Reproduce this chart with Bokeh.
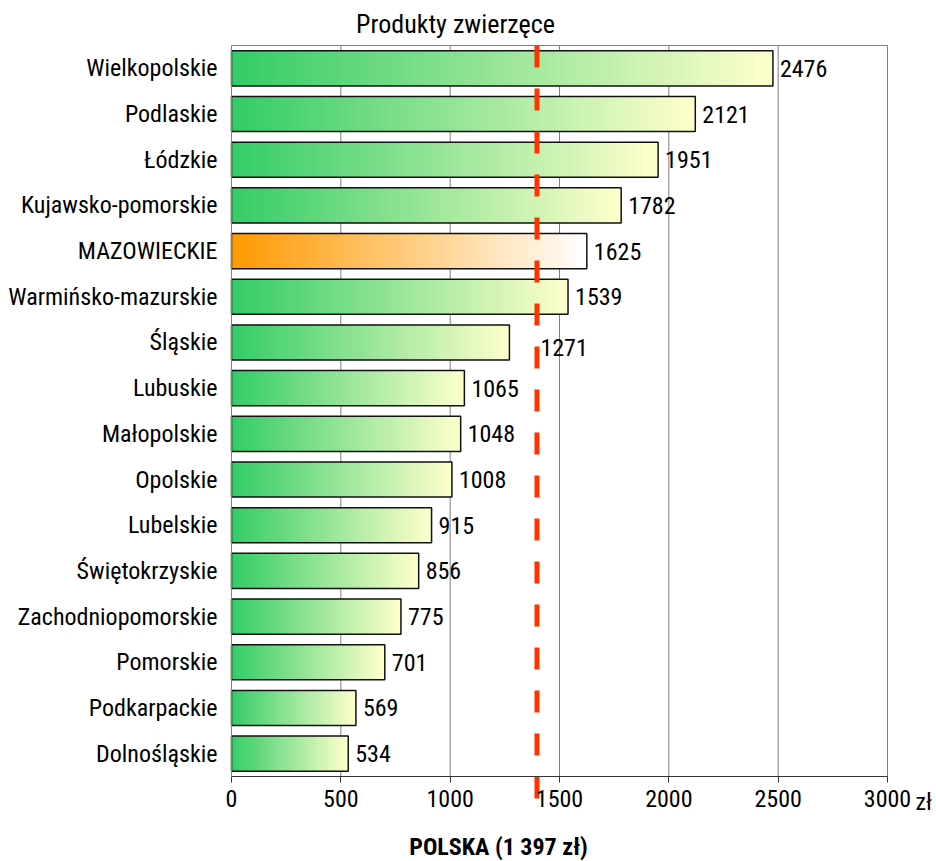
from bokeh.plotting import figure
from bokeh.models import Range1d, FixedTicker
from bokeh.embed import file_html
from bokeh.resources import INLINE
from bokeh.core.properties import value

# ---- data ----
regions = ["Wielkopolskie", "Podlaskie", "Łódzkie", "Kujawsko-pomorskie", "MAZOWIECKIE",
           "Warmińsko-mazurskie", "Śląskie", "Lubuskie", "Małopolskie", "Opolskie",
           "Lubelskie", "Świętokrzyskie", "Zachodniopomorskie", "Pomorskie",
           "Podkarpackie", "Dolnośląskie"]
values = [2476, 2121, 1951, 1782, 1625, 1539, 1271, 1065, 1048, 1008, 915, 856, 775, 701, 569, 534]
highlight = "MAZOWIECKIE"
poland_avg = 1397
x_ticks = [0, 500, 1000, 1500, 2000, 2500, 3000]
title_text = "Produkty zwierzęce"
national_text = "POLSKA (1 397 zł)"
unit_text = "zł"

# ---- style ----
FONT = "Roboto Condensed"
FS = "24px"
GREEN = ((51, 204, 102), (255, 255, 204))
ORANGE = ((255, 153, 0), (255, 255, 255))
N_SEG = 60
BAR_H = 0.77
label_dx = [7] * len(values)
label_dy = [0] * len(values)
label_dx[6] = 31
label_dy[6] = 5

W, H = 936, 861
n = len(regions)
ys = [n - i for i in range(n)]
x_max = x_ticks[-1]
# pixel geometry of the plotting area inside the canvas
left_px, right_px, top_px, axis_px = 231, 887, 45, 776
px_x = (right_px - left_px) / x_max
px_y = (axis_px - top_px) / n
y_lo, y_hi = 0.5, n + 0.5

def sx(px):
    return (px - left_px) / px_x

def sy(py):
    return y_lo + (axis_px - py) / px_y

p = figure(width=W, height=H,
           x_range=Range1d(sx(0), sx(W)), y_range=Range1d(sy(H), sy(0)),
           output_backend="svg", toolbar_location=None, min_border=0,
           min_border_left=0, min_border_right=0, min_border_top=0, min_border_bottom=0)
p.outline_line_color = None
p.xgrid.visible = False
p.ygrid.visible = False
p.background_fill_color = "white"
p.border_fill_color = "white"

# grid lines (vertical) and top border
p.segment(x0=x_ticks[1:], x1=x_ticks[1:], y0=y_lo, y1=y_hi, line_color="#808080", line_width=1)
p.segment(x0=[0], x1=[x_max], y0=[y_hi], y1=[y_hi], line_color="#808080", line_width=1)


def hexc(c):
    return "#%02x%02x%02x" % tuple(int(round(v)) for v in c)


seg_y, seg_l, seg_r, seg_c = [], [], [], []
for name, v, y in zip(regions, values, ys):
    c0, c1 = ORANGE if name == highlight else GREEN
    for k in range(N_SEG):
        t = (k + 0.5) / N_SEG
        col = tuple(c0[j] + (c1[j] - c0[j]) * t for j in range(3))
        seg_y.append(y)
        seg_l.append(v * k / N_SEG)
        seg_r.append(min(v, v * (k + 1.3) / N_SEG))
        seg_c.append(hexc(col))

p.hbar(y=seg_y, left=seg_l, right=seg_r, height=BAR_H, fill_color=seg_c, line_color=None)
p.hbar(y=ys, left=0, right=values, height=BAR_H, fill_color=None, line_color="#111111", line_width=1.5)

p.text(x=values, y=ys, text=[str(v) for v in values], x_offset=label_dx, y_offset=label_dy,
       text_baseline="middle", text_align="left", text_font=value(FONT),
       text_font_size=FS, text_color="#000000")

# national average dashed line (runs slightly below the axis)
p.segment(x0=[poland_avg], x1=[poland_avg], y0=[y_hi], y1=[sy(axis_px + 30)],
          line_color="#FF3300", line_width=5, line_dash="22 21")

# axes
xa = p.xaxis[0]
xa.fixed_location = y_lo
xa.bounds = (0, x_max)
xa.ticker = FixedTicker(ticks=x_ticks)
xa.major_tick_out = 6
xa.major_tick_in = 0
xa.minor_tick_line_color = None
xa.axis_line_color = "#333333"
xa.major_tick_line_color = "#333333"
xa.major_label_standoff = 7
xa.major_label_text_font = FONT
xa.major_label_text_font_size = FS
xa.major_label_text_color = "#000000"

ya = p.yaxis[0]
ya.fixed_location = 0
ya.ticker = FixedTicker(ticks=ys)
ya.major_label_overrides = {y: name for y, name in zip(ys, regions)}
ya.bounds = (y_lo, y_hi)
ya.major_tick_out = 0
ya.major_tick_in = 0
ya.minor_tick_line_color = None
ya.axis_line_color = "#808080"
ya.major_label_standoff = 14
ya.major_label_text_font = FONT
ya.major_label_text_font_size = FS
ya.major_label_text_color = "#000000"

# unit after the last tick label
p.text(x=[x_max], y=[sy(801)], text=[unit_text], x_offset=28,
       text_baseline="middle", text_align="left", text_font=value(FONT),
       text_font_size=FS, text_color="#000000")

# title
p.text(x=[sx(455)], y=[sy(23)], text=[title_text], text_align="center",
       text_baseline="middle", text_font=value(FONT), text_font_size="26px",
       text_color="#000000")

# national average caption
p.text(x=[sx(498)], y=[sy(846)], text=[national_text], text_align="center",
       text_baseline="middle", text_font=value(FONT), text_font_size=FS,
       text_font_style="bold", text_color="#000000")

open("out.html", "w").write(file_html(p, INLINE))
